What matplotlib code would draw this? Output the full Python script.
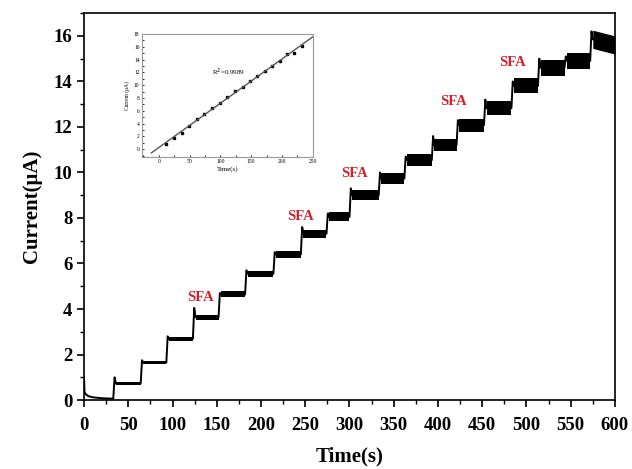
import numpy as np
import matplotlib.pyplot as plt
from matplotlib.ticker import MultipleLocator

# step onsets (s) and plateau currents (uA)
step_t = [33, 64, 93, 123, 152, 182, 214, 245, 274, 300, 333, 362, 393, 421, 452, 483, 513, 543, 572]
step_lvl = [0.73, 1.65, 2.69, 3.64, 4.64, 5.55, 6.40, 7.31, 8.05, 9.00, 9.73, 10.54, 11.2, 12.08,
            12.82, 13.8, 14.6, 14.9, 15.85]
step_spike = [1.0, 1.75, 2.8, 4.05, 4.7, 5.7, 6.5, 7.6, 8.2, 9.3, 10.0, 10.7, 11.6, 12.3,
              13.2, 14.0, 15.0, 15.1, 16.2]
band = [0.07, 0.08, 0.1, 0.11, 0.13, 0.14, 0.16, 0.18, 0.2, 0.22, 0.24, 0.26, 0.27, 0.29,
        0.31, 0.33, 0.35, 0.37, 0.4]
end_lvl = 15.6

# initial decay before first addition
start_t = [0, 0.5, 2, 5, 10, 20, 33]
start_y = [1.0, 0.35, 0.25, 0.17, 0.12, 0.08, 0.06]

# inset calibration
cal_t = [12.3, 25, 37, 49, 62, 74, 86, 99, 111, 124, 136.5, 148, 160, 172, 184, 196.5, 208.5, 219, 232]
cal_i = [0.9, 1.7, 2.6, 3.6, 4.7, 5.5, 6.5, 7.3, 8.1, 9.05, 9.8, 10.6, 11.4, 12.3, 13.0, 13.75,
         14.8, 15.05, 16.1]

sfa_x = [131.7, 244.6, 305.9, 417.6, 484.5]
sfa_y = [4.5, 8.07, 9.94, 13.1, 14.84]

serif = ['Liberation Serif', 'DejaVu Serif']

fig = plt.figure(figsize=(6.32, 4.69), dpi=100)
ax = fig.add_axes([0.133, 0.147, 0.84, 0.825])

# build trace
tx = list(start_t)
ty = list(start_y)
ends = step_t[1:] + [600]
for i in range(len(step_t)):
    tx += [step_t[i], step_t[i] + 1.5, step_t[i] + 3]
    ty += [ty[-1], step_spike[i], step_lvl[i]]
    last = end_lvl if i == len(step_t) - 1 else step_lvl[i]
    tx.append(ends[i])
    ty.append(last)
    seg_t = np.array([step_t[i] + 3, ends[i]])
    seg_y = np.array([step_lvl[i], last])
    ax.fill_between(seg_t, seg_y - band[i], seg_y + band[i], color='black', lw=0)
ax.plot(tx, ty, color='black', lw=1.4)

for x, y in zip(sfa_x, sfa_y):
    ax.text(x, y, 'SFA', color='#d4202a', fontsize=10.5, fontweight='bold',
            family=serif, ha='center', va='center')

ax.set_xlim(0, 600)
ax.set_ylim(0, 17)
ax.xaxis.set_major_locator(MultipleLocator(50))
ax.xaxis.set_minor_locator(MultipleLocator(25))
ax.yaxis.set_major_locator(MultipleLocator(2))
ax.yaxis.set_minor_locator(MultipleLocator(1))
ax.tick_params(which='major', direction='out', length=5, width=1.2, labelsize=13.5)
ax.tick_params(axis='x', which='major', pad=7)
ax.tick_params(which='minor', direction='out', length=3, width=1.0)
for lab in ax.get_xticklabels() + ax.get_yticklabels():
    lab.set_family(serif)
    lab.set_fontweight('bold')
for s in ax.spines.values():
    s.set_linewidth(1.2)
ax.set_xlabel('Time(s)', fontsize=15, fontweight='bold', family=serif, labelpad=9)
ax.set_ylabel('Current(μA)', fontsize=15, fontweight='bold', family=serif, labelpad=8)

# inset
ins = fig.add_axes([0.224, 0.666, 0.271, 0.2615])
ins.plot(cal_t, cal_i, 's', color='black', ms=2)
k, b = np.polyfit(cal_t, cal_i, 1)
fx = np.array([-12, 250])
ins.plot(fx, k * fx + b, color='#555555', lw=1.0)
ins.text(87, 12.0, 'R$^2$=0.9989', fontsize=5, family=serif, va='center')
ins.set_xlim(-28, 250)
ins.set_ylim(-1.15, 18)
ins.xaxis.set_major_locator(MultipleLocator(50))
ins.xaxis.set_minor_locator(MultipleLocator(25))
ins.yaxis.set_major_locator(MultipleLocator(2))
ins.yaxis.set_minor_locator(MultipleLocator(1))
ins.tick_params(which='both', direction='in', length=1.5, width=0.6, labelsize=4, pad=1.5)
for lab in ins.get_xticklabels() + ins.get_yticklabels():
    lab.set_family(serif)
for s in ins.spines.values():
    s.set_color('#999999')
    s.set_linewidth(0.8)
ins.set_xlabel('Time(s)', fontsize=5, family=serif, labelpad=2)
ins.set_ylabel('Current (μA)', fontsize=4, family=serif, labelpad=3)

fig.savefig('out.png', dpi=100)
